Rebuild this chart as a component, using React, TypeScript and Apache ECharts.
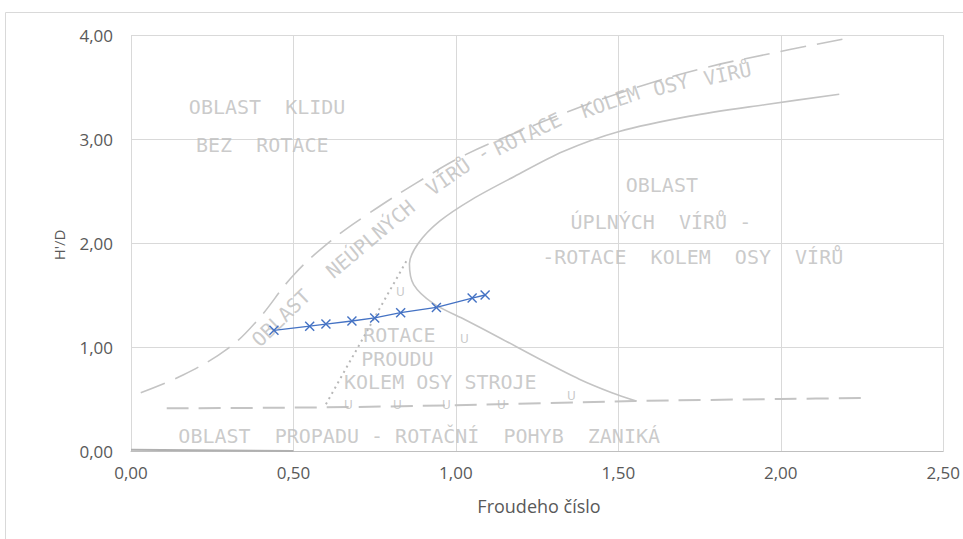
import React, { useEffect, useRef } from "react";
import * as echarts from "echarts";

// measured series
const froude = [0.44, 0.55, 0.6, 0.68, 0.75, 0.83, 0.94, 1.05, 1.09];
const hd = [1.16, 1.2, 1.22, 1.25, 1.28, 1.33, 1.38, 1.47, 1.5];

// background diagram curves
const upperDashX = [0.03, 0.16, 0.3, 0.39, 0.5, 0.615, 0.73, 0.88, 1.03, 1.2, 1.385, 1.57, 1.76, 1.95, 2.19];
const upperDashY = [0.56, 0.73, 0.99, 1.26, 1.69, 2.02, 2.28, 2.58, 2.85, 3.08, 3.31, 3.51, 3.68, 3.81, 3.96];

const noseX = [2.18, 1.95, 1.72, 1.5, 1.33, 1.18, 1.05, 0.95, 0.885, 0.857, 0.87, 0.93, 1.03, 1.14, 1.26, 1.38, 1.48, 1.555];
const noseY = [3.43, 3.33, 3.22, 3.07, 2.88, 2.64, 2.42, 2.21, 2.0, 1.8, 1.6, 1.42, 1.26, 1.08, 0.88, 0.69, 0.56, 0.48];

const lowerDashX = [0.11, 0.6, 1.0, 1.55, 2.0, 2.25];
const lowerDashY = [0.41, 0.42, 0.44, 0.48, 0.5, 0.51];

const dottedX = [0.6, 0.85];
const dottedY = [0.45, 1.84];

const baseX = [0.0, 0.5];
const baseY = [0.012, 0.0];

// region labels of the drawing
const labelTexts = [
  "OBLAST  KLIDU",
  "BEZ  ROTACE",
  "OBLAST",
  "ÚPLNÝCH  VÍRŮ -",
  "-ROTACE  KOLEM  OSY  VÍRŮ",
  "ROTACE",
  "PROUDU",
  "KOLEM OSY STROJE",
  "OBLAST  PROPADU - ROTAČNÍ  POHYB  ZANIKÁ",
  "OBLAST",
  "NEÚPLNÝCH",
  "VÍRŮ -",
  "ROTACE",
  "KOLEM",
  "OSY",
  "VÍRŮ",
];
const labelX = [0.419, 0.404, 1.634, 1.631, 1.729, 0.826, 0.82, 0.952, 0.887, 0.462, 0.737, 1.007, 1.221, 1.475, 1.662, 1.836];
const labelY = [3.308, 2.942, 2.558, 2.202, 1.865, 1.115, 0.885, 0.662, 0.144, 1.279, 2.038, 2.702, 3.048, 3.356, 3.519, 3.625];
const labelRot = [0, 0, 0, 0, 0, 0, 0, 0, 0, 44, 40, 35, 26, 19, 14, 12];

// rotation symbols
const symX = [0.829, 1.028, 0.67, 0.82, 0.97, 1.141, 1.356];
const symY = [1.529, 1.077, 0.44, 0.44, 0.44, 0.44, 0.53];

const xTicks = { min: 0, max: 2.5, interval: 0.5 };
const yTicks = { min: 0, max: 4, interval: 1 };

const zip = (xs: number[], ys: number[]) => xs.map((x, i) => [x, ys[i]]);
const fmt = (v: number) => v.toFixed(2).replace(".", ",");

const GRAY = "#c4c4c4";
const TEXT_GRAY = "#bdbdbd";
const MONO = "'DejaVu Sans Mono', monospace";
const AXIS_FONT = "'Open Sans', sans-serif";

export default function App() {
  const ref = useRef<HTMLDivElement>(null);
  useEffect(() => {
    if (!ref.current) return;
    const chart = echarts.init(ref.current, undefined, { renderer: "svg" });
    const xMark =
      "path://M0,1 L1,0 L5,4 L9,0 L10,1 L6,5 L10,9 L9,10 L5,6 L1,10 L0,9 L4,5 Z";
    chart.setOption({
      animation: false,
      backgroundColor: "#ffffff",
      grid: { left: 131, top: 35, right: 15, bottom: 88, containLabel: false },
      xAxis: {
        type: "value",
        min: xTicks.min,
        max: xTicks.max,
        interval: xTicks.interval,
        axisLine: { show: true, lineStyle: { color: "#bfbfbf", width: 1 } },
        axisTick: { show: false },
        axisLabel: {
          formatter: fmt,
          color: "#595959",
          fontFamily: AXIS_FONT,
          fontSize: 17,
          margin: 13,
        },
        splitLine: { show: true, lineStyle: { color: "#d9d9d9", width: 1 } },
      },
      yAxis: {
        type: "value",
        min: yTicks.min,
        max: yTicks.max,
        interval: yTicks.interval,
        axisLine: { show: false },
        axisTick: { show: false },
        axisLabel: {
          formatter: fmt,
          color: "#595959",
          fontFamily: AXIS_FONT,
          fontSize: 17,
          margin: 18,
        },
        splitLine: { show: true, lineStyle: { color: "#d9d9d9", width: 1 } },
      },
      graphic: [
        {
          type: "rect",
          z: -10,
          silent: true,
          shape: { x: 5.5, y: 12.5, width: 1000, height: 600 },
          style: { fill: "none", stroke: "#d9d9d9", lineWidth: 1 },
        },
        {
          type: "text",
          x: 539,
          y: 506,
          style: {
            text: "Froudeho číslo",
            fill: "#595959",
            font: `18px ${AXIS_FONT}`,
            align: "center",
            verticalAlign: "middle",
          },
        },
        {
          type: "text",
          x: 59,
          y: 245,
          rotation: Math.PI / 2,
          style: {
            text: "H'/D",
            fill: "#595959",
            font: `15px ${AXIS_FONT}`,
            align: "center",
            verticalAlign: "middle",
          },
        },
      ],
      series: [
        {
          type: "line",
          data: zip(upperDashX, upperDashY),
          smooth: 0.4,
          symbol: "none",
          silent: true,
          lineStyle: { color: GRAY, width: 1.6, type: [26, 11] },
          z: 1,
        },
        {
          type: "line",
          data: zip(noseX, noseY),
          smooth: 0.3,
          symbol: "none",
          silent: true,
          lineStyle: { color: GRAY, width: 1.6 },
          z: 1,
        },
        {
          type: "line",
          data: zip(lowerDashX, lowerDashY),
          smooth: 0.3,
          symbol: "none",
          silent: true,
          lineStyle: { color: GRAY, width: 2, type: [22, 10] },
          z: 1,
        },
        {
          type: "line",
          data: zip(dottedX, dottedY),
          symbol: "none",
          silent: true,
          lineStyle: { color: "#b8b8b8", width: 2, type: [2, 4] },
          z: 1,
        },
        {
          type: "line",
          data: zip(baseX, baseY),
          symbol: "none",
          silent: true,
          lineStyle: { color: "#b0b0b0", width: 2 },
          z: 1,
        },
        {
          type: "scatter",
          silent: true,
          symbolSize: 0,
          z: 2,
          data: labelTexts.map((t, i) => ({
            value: [labelX[i], labelY[i]],
            label: {
              show: true,
              formatter: t,
              rotate: labelRot[i],
              position: "inside",
              align: "center",
              verticalAlign: "middle",
              color: TEXT_GRAY,
              fontFamily: MONO,
              fontSize: 20,
              lineHeight: 20,
            },
          })),
        },
        {
          type: "scatter",
          silent: true,
          symbolSize: 0,
          z: 2,
          data: zip(symX, symY).map((v) => ({
            value: v,
            label: {
              show: true,
              formatter: "ᑌ",
              position: "inside",
              color: TEXT_GRAY,
              fontFamily: MONO,
              fontSize: 12,
              lineHeight: 12,
            },
          })),
        },
        {
          type: "line",
          data: zip(froude, hd),
          symbol: xMark,
          symbolSize: 10,
          lineStyle: { color: "#4472C4", width: 1.3 },
          itemStyle: { color: "#4472C4" },
          z: 5,
        },
      ],
    });
    return () => chart.dispose();
  }, []);
  return (
    <div
      ref={ref}
      style={{ position: "absolute", left: 0, top: 0, width: 963, height: 539 }}
    />
  );
}
